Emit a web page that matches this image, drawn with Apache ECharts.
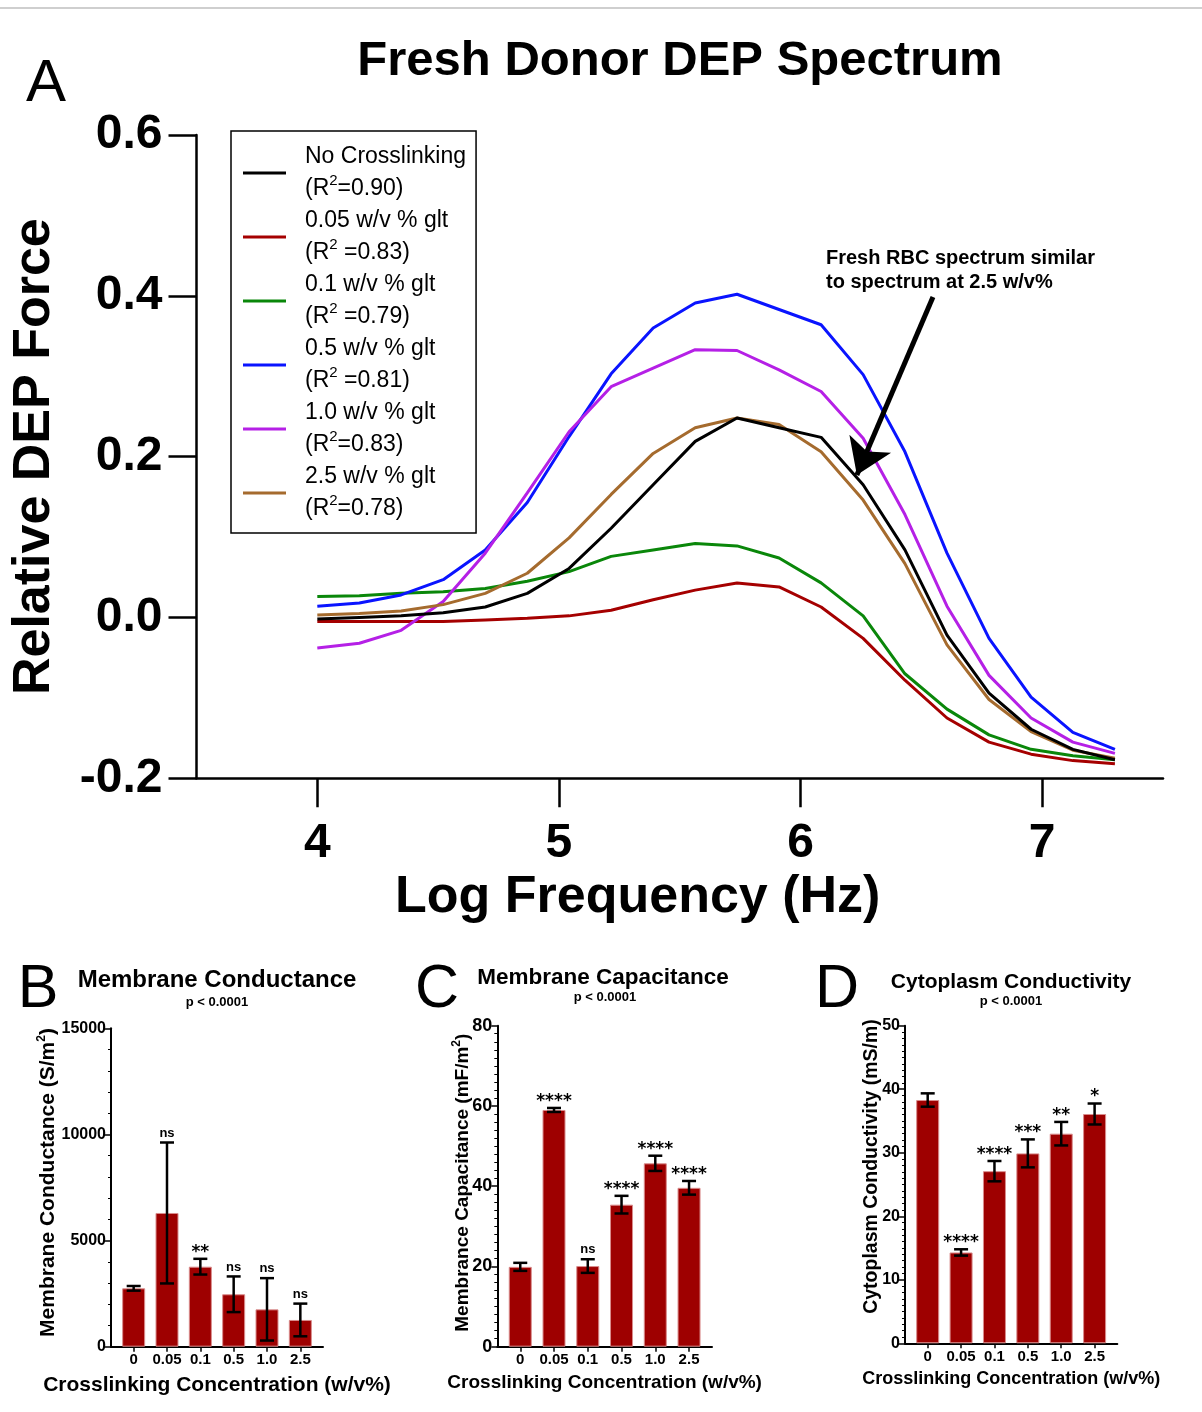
<!DOCTYPE html>
<html>
<head>
<meta charset="utf-8">
<script src="https://cdn.jsdelivr.net/npm/echarts@6/dist/echarts.min.js"></script>
<style>
html,body{margin:0;padding:0;background:#fff;}
#chart{width:1202px;height:1412px;}
</style>
</head>
<body>
<div id="chart"></div>
<script>
const FF = '"Liberation Sans", Arial, Helvetica, sans-serif';

// ---------- Panel A data ----------
const logFreq = [4.000, 4.174, 4.347, 4.521, 4.695, 4.869, 5.042, 5.216, 5.390, 5.564,
                 5.737, 5.911, 6.085, 6.259, 6.432, 6.606, 6.780, 6.954, 7.127, 7.301];
const seriesNames = ['No Crosslinking', '0.05 w/v % glt', '0.1 w/v % glt', '0.5 w/v % glt', '1.0 w/v % glt', '2.5 w/v % glt'];
const legendLabels = [
  'No Crosslinking\n(R{sup|2}=0.90)',
  '0.05 w/v % glt\n(R{sup|2} =0.83)',
  '0.1 w/v % glt\n(R{sup|2} =0.79)',
  '0.5 w/v % glt\n(R{sup|2} =0.81)',
  '1.0 w/v % glt\n(R{sup|2}=0.83)',
  '2.5 w/v % glt\n(R{sup|2}=0.78)'
];
const noCrosslink = [-0.002, 0.000, 0.002, 0.006, 0.013, 0.030, 0.061, 0.111, 0.165, 0.219,
                     0.248, 0.236, 0.224, 0.165, 0.084, -0.022, -0.094, -0.139, -0.164, -0.177];
const glt005 = [-0.005, -0.005, -0.005, -0.005, -0.003, -0.001, 0.002, 0.009, 0.022, 0.034,
                0.043, 0.038, 0.013, -0.026, -0.078, -0.125, -0.155, -0.170, -0.178, -0.182];
const glt01 = [0.026, 0.027, 0.030, 0.032, 0.036, 0.045, 0.057, 0.076, 0.084, 0.092,
               0.089, 0.074, 0.043, 0.002, -0.070, -0.114, -0.146, -0.164, -0.172, -0.177];
const glt05 = [0.014, 0.018, 0.028, 0.047, 0.084, 0.143, 0.225, 0.303, 0.360, 0.391,
               0.402, 0.383, 0.364, 0.302, 0.206, 0.080, -0.026, -0.099, -0.143, -0.164];
const glt10 = [-0.038, -0.032, -0.016, 0.020, 0.080, 0.155, 0.231, 0.287, 0.310, 0.333,
               0.332, 0.308, 0.281, 0.223, 0.128, 0.014, -0.072, -0.125, -0.155, -0.169];
const glt25 = [0.003, 0.005, 0.008, 0.016, 0.030, 0.055, 0.099, 0.153, 0.204, 0.236,
               0.248, 0.240, 0.206, 0.146, 0.067, -0.034, -0.102, -0.142, -0.165, -0.175];
const xTickValues = [4, 5, 6, 7];
const arrowStart = [6.548, 0.3985];
const arrowEnd = [6.233, 0.1772];

// ---------- Panels B-D data ----------
const concCats = ['0', '0.05', '0.1', '0.5', '1.0', '2.5'];
const condMean = [2750, 6300, 3770, 2470, 1760, 1260];
const condErr  = [110, 3320, 370, 840, 1470, 770];
const condSig  = ['', 'ns', '**', 'ns', 'ns', 'ns'];
const capMean = [19.9, 59.0, 20.1, 35.4, 45.7, 39.6];
const capErr  = [1.0, 0.5, 1.7, 2.2, 1.9, 1.7];
const capSig  = ['', '****', 'ns', '****', '****', '****'];
const cytoMean = [38.3, 14.3, 27.1, 29.9, 33.0, 36.1];
const cytoErr  = [1.05, 0.5, 1.6, 2.2, 1.85, 1.65];
const cytoSig  = ['', '****', '****', '***', '**', '*'];

const lineData = [noCrosslink, glt005, glt01, glt05, glt10, glt25];
const lineColors = ['#000000', '#a50000', '#0a870a', '#0a14ff', '#b520e6', '#a56b2e'];
const drawOrder = [1, 2, 3, 4, 5, 0];

const chart = echarts.init(document.getElementById('chart'), null, {renderer: 'canvas'});

const grids = [
  {left: 196.5, top: 135, width: 966.5, height: 643.3, outerBoundsMode: 'none'},
  {left: 111, top: 1028.3, width: 212, height: 318.4, outerBoundsMode: 'none'},
  {left: 497.3, top: 1025.7, width: 214.7, height: 321, outerBoundsMode: 'none'},
  {left: 905, top: 1025.7, width: 212.3, height: 317.6, outerBoundsMode: 'none'}
];

const xAxes = [{
  gridIndex: 0, type: 'value', min: 3.5, max: 7.5,
  axisLine: {show: true, onZero: false, lineStyle: {color: '#000', width: 2.5}},
  axisTick: {show: true, length: 29, customValues: xTickValues, lineStyle: {color: '#000', width: 2.5}},
  axisLabel: {customValues: xTickValues, fontSize: 48, fontWeight: 'bold', color: '#000', fontFamily: FF, margin: 41},
  splitLine: {show: false},
  name: 'Log Frequency (Hz)', nameLocation: 'middle', nameGap: 93, nameMoveOverlap: false,
  nameTextStyle: {fontSize: 52, fontWeight: 'bold', color: '#000', fontFamily: FF, padding: [0, 84, 0, 0]}
}];
const yAxes = [{
  gridIndex: 0, type: 'value', min: -0.2, max: 0.6, interval: 0.2,
  axisLine: {show: true, onZero: false, lineStyle: {color: '#000', width: 2.5}},
  axisTick: {show: true, length: 28, lineStyle: {color: '#000', width: 2.5}},
  axisLabel: {fontSize: 48, fontWeight: 'bold', color: '#000', fontFamily: FF, margin: 34,
    formatter: v => (Math.abs(v) < 1e-9 ? 0 : v).toFixed(1)},
  splitLine: {show: false},
  name: 'Relative DEP Force', nameLocation: 'middle', nameGap: 136, nameMoveOverlap: false,
  nameTextStyle: {fontSize: 52, fontWeight: 'bold', color: '#000', fontFamily: FF}
}];

const panels = [
  {means: condMean, errs: condErr, sigs: condSig, max: 15000, interval: 5000, minor: 5,
   yName: 'Membrane Conductance (S/m{sup|2})', yGap: 51, yFont: 16, yNameFont: 21, yShift: 10,
   xName: 21, xGap: 28},
  {means: capMean, errs: capErr, sigs: capSig, max: 80, interval: 20, minor: 10,
   yName: 'Membrance Capacitance (mF/m{sup|2})', yGap: 23, yFont: 18, yNameFont: 19, yShift: 7,
   xName: 19, xGap: 27},
  {means: cytoMean, errs: cytoErr, sigs: cytoSig, max: 50, interval: 10, minor: 10,
   yName: 'Cytoplasm Conductivity (mS/m)', yGap: 21, yFont: 16, yNameFont: 19.5, yShift: 36,
   xName: 18, xGap: 27}
];

const catIdx = concCats.map((c, i) => i);

panels.forEach((p, k) => {
  const g = k + 1;
  xAxes.push({
    gridIndex: g, type: 'value', min: -0.68, max: 5.68,
    axisLine: {show: true, onZero: false, lineStyle: {color: '#000', width: 2}},
    axisTick: {show: true, length: 5, customValues: catIdx, lineStyle: {color: '#000', width: 1.5}},
    axisLabel: {customValues: catIdx, formatter: v => concCats[Math.round(v)], fontSize: 15, fontWeight: 'bold',
      color: '#000', fontFamily: FF, margin: 6},
    splitLine: {show: false},
    name: 'Crosslinking Concentration (w/v%)', nameLocation: 'middle', nameGap: p.xGap, nameMoveOverlap: false,
    nameTextStyle: {fontSize: p.xName, fontWeight: 'bold', color: '#000', fontFamily: FF}
  });
  yAxes.push({
    gridIndex: g, type: 'value', min: 0, max: p.max, interval: p.interval,
    axisLine: {show: true, onZero: false, lineStyle: {color: '#000', width: 2}},
    axisTick: {show: true, length: 6, lineStyle: {color: '#000', width: 1.5}},
    minorTick: {show: true, splitNumber: p.minor, length: 3, lineStyle: {color: '#000', width: 1}},
    axisLabel: {fontSize: p.yFont, fontWeight: 'bold', color: '#000', fontFamily: FF, margin: 5,
      formatter: v => String(v)},
    splitLine: {show: false}, minorSplitLine: {show: false},
    name: p.yName, nameLocation: 'middle', nameGap: p.yGap, nameMoveOverlap: false,
    nameTextStyle: {fontSize: p.yNameFont, fontWeight: 'bold', color: '#000', fontFamily: FF, lineHeight: 24,
      padding: [0, 0, 0, p.yShift],
      rich: {sup: {fontSize: 12, lineHeight: 12, verticalAlign: 'top', fontWeight: 'bold', fontFamily: FF, color: '#000'}}}
  });
});

const series = [];
drawOrder.forEach(k => {
  const s = {
    type: 'line', name: seriesNames[k], xAxisIndex: 0, yAxisIndex: 0,
    data: logFreq.map((x, i) => [x, lineData[k][i]]),
    showSymbol: false, symbol: 'none',
    lineStyle: {width: 3, color: lineColors[k]}, itemStyle: {color: lineColors[k]},
    silent: true, z: 2
  };
  if (k === 0) {
    s.markLine = {
      silent: true, symbol: ['none', 'arrow'], symbolSize: 34,
      label: {show: false},
      lineStyle: {color: '#000', width: 5, type: 'solid'},
      data: [[{coord: arrowStart}, {coord: arrowEnd}]]
    };
  }
  series.push(s);
});

function errRenderer(errs, sigs) {
  return function (params, api) {
    const i = params.dataIndex;
    const x = api.value(0), m = api.value(1), e = errs[i];
    const pTop = api.coord([x, m + e]);
    const pBot = api.coord([x, m - e]);
    const cw = 7;
    const mk = () => ({stroke: '#000', lineWidth: 2.5});
    const children = [
      {type: 'line', shape: {x1: pTop[0], y1: pTop[1], x2: pBot[0], y2: pBot[1]}, style: mk()},
      {type: 'line', shape: {x1: pTop[0] - cw, y1: pTop[1], x2: pTop[0] + cw, y2: pTop[1]}, style: mk()},
      {type: 'line', shape: {x1: pBot[0] - cw, y1: pBot[1], x2: pBot[0] + cw, y2: pBot[1]}, style: mk()}
    ];
    const s = sigs[i];
    if (s) {
      const star = s.indexOf('*') >= 0;
      children.push({
        type: 'text', x: pTop[0], y: pTop[1] + (star ? 2 : -3),
        style: {text: s, fill: '#000', fontSize: star ? 17 : 13, fontWeight: 'bold',
          fontFamily: star ? '"DejaVu Sans", sans-serif' : FF, align: 'center', verticalAlign: 'bottom'}
      });
    }
    return {type: 'group', children: children};
  };
}

panels.forEach((p, k) => {
  const g = k + 1;
  series.push({
    type: 'bar', xAxisIndex: g, yAxisIndex: g,
    data: p.means.map((m, i) => [i, m]),
    barWidth: 23,
    itemStyle: {color: '#9e0000', borderColor: '#d98c8c', borderWidth: 1},
    silent: true, z: 2
  });
  series.push({
    type: 'custom', xAxisIndex: g, yAxisIndex: g,
    data: p.means.map((m, i) => [i, m, p.errs[i]]),
    encode: {x: 0, y: 1},
    renderItem: errRenderer(p.errs, p.sigs),
    clip: false, silent: true, z: 3
  });
});

function txt(text, x, y, size, weight, extra) {
  return Object.assign({
    type: 'text', x: x, y: y, silent: true,
    style: {text: text, fill: '#000', fontSize: size, fontWeight: weight, fontFamily: FF,
      align: 'center', verticalAlign: 'middle'}
  }, extra || {});
}

const graphics = [
  {type: 'line', shape: {x1: 0, y1: 8, x2: 1202, y2: 8}, style: {stroke: '#cfcfcf', lineWidth: 2}, silent: true},
  txt('A', 46, 84, 60, 'normal'),
  txt('Fresh Donor DEP Spectrum', 680, 61, 49, 'bold'),
  {type: 'text', x: 826, y: 270, silent: true,
   style: {text: 'Fresh RBC spectrum similar\nto spectrum at 2.5 w/v%', fill: '#000', fontSize: 20, fontWeight: 'bold',
     fontFamily: FF, lineHeight: 24, align: 'left', verticalAlign: 'middle'}},
  txt('B', 38, 990, 61, 'normal'),
  txt('Membrane Conductance', 217, 980, 24, 'bold'),
  txt('p < 0.0001', 217, 1002, 13, 'bold'),
  txt('C', 437, 990, 61, 'normal'),
  txt('Membrane Capacitance', 603, 978, 22.5, 'bold'),
  txt('p < 0.0001', 605, 997, 13, 'bold'),
  txt('D', 837, 990, 61, 'normal'),
  txt('Cytoplasm Conductivity', 1011, 982, 21, 'bold'),
  txt('p < 0.0001', 1011, 1001, 13, 'bold')
];

chart.setOption({
  animation: false,
  backgroundColor: '#fff',
  textStyle: {fontFamily: FF},
  grid: grids,
  xAxis: xAxes,
  yAxis: yAxes,
  legend: {
    data: seriesNames,
    orient: 'vertical', left: 231, top: 131,
    icon: 'rect', itemWidth: 43, itemHeight: 3, itemGap: 0,
    padding: [10, 10, 8, 12],
    borderColor: '#000', borderWidth: 1.5,
    selectedMode: false,
    formatter: name => legendLabels[seriesNames.indexOf(name)],
    textStyle: {fontSize: 23, lineHeight: 32, color: '#000', fontFamily: FF, padding: [0, 0, 0, 14],
      rich: {sup: {fontSize: 15, lineHeight: 15, verticalAlign: 'top', color: '#000', fontFamily: FF}}}
  },
  graphic: graphics,
  series: series
});
</script>
</body>
</html>
